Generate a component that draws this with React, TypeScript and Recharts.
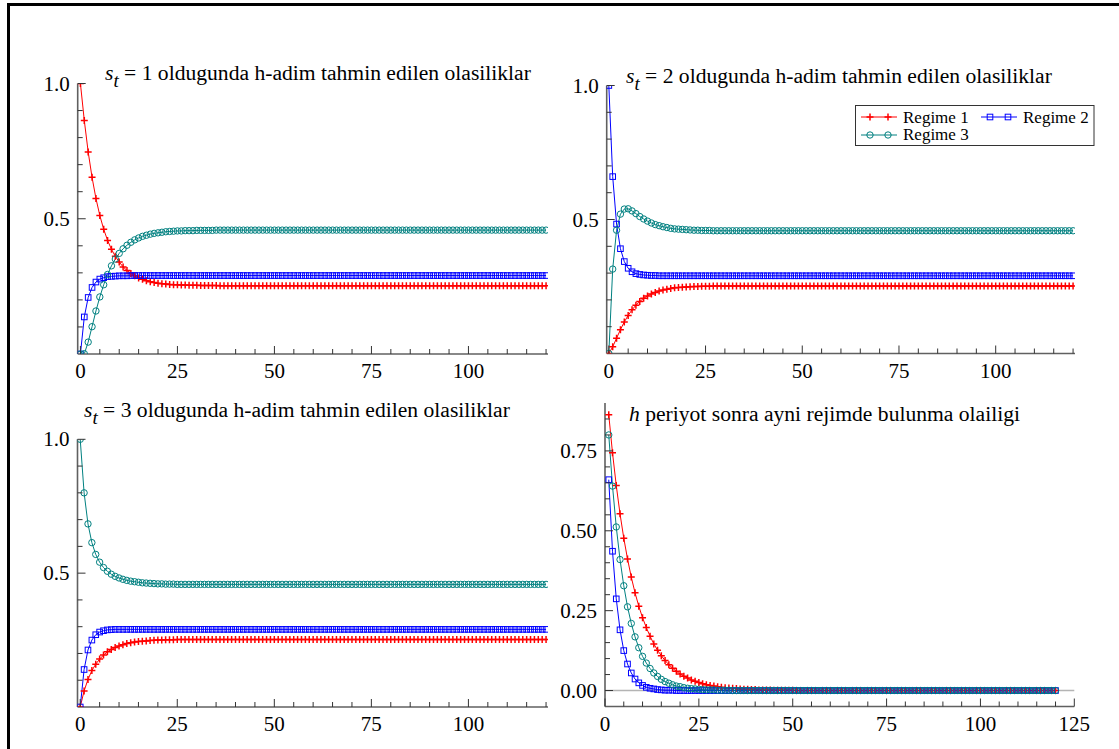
import React from 'react';
import { LineChart, Line, XAxis, YAxis, ReferenceLine } from 'recharts';

const W = 1119;
const H = 749;
const FONT = "'Liberation Serif', 'Times New Roman', serif";
const RED = '#ff0000';
const BLUE = '#0000ff';
const TEAL = '#008080';
const AXIS = '#606060';

// h-step predicted probabilities, s_t = 1 (h = 0..120)
const s1Regime1 = [
  1, 0.863, 0.747, 0.653, 0.575, 0.512, 0.461, 0.420, 0.387, 0.361,
  0.340, 0.322, 0.309, 0.298, 0.289, 0.281, 0.276, 0.271, 0.267, 0.264,
  0.262, 0.260, 0.259, 0.257, 0.256, 0.256, 0.255, 0.255, 0.254, 0.254,
  0.254, 0.253, 0.253, 0.253, 0.253, 0.253, 0.252, 0.252, 0.252, 0.252,
  0.252, 0.252, 0.252, 0.252, 0.252, 0.252, 0.252, 0.252, 0.252, 0.252,
  0.252, 0.252, 0.252, 0.252, 0.252, 0.252, 0.252, 0.252, 0.252, 0.252,
  0.252, 0.252, 0.252, 0.252, 0.252, 0.252, 0.252, 0.252, 0.252, 0.252,
  0.252, 0.252, 0.252, 0.252, 0.252, 0.252, 0.252, 0.252, 0.252, 0.252,
  0.252, 0.252, 0.252, 0.252, 0.252, 0.252, 0.252, 0.252, 0.252, 0.252,
  0.252, 0.252, 0.252, 0.252, 0.252, 0.252, 0.252, 0.252, 0.252, 0.252,
  0.252, 0.252, 0.252, 0.252, 0.252, 0.252, 0.252, 0.252, 0.252, 0.252,
  0.252, 0.252, 0.252, 0.252, 0.252, 0.252, 0.252, 0.252, 0.252, 0.252,
  0.252,
];
const s1Regime2 = [
  0, 0.137, 0.209, 0.246, 0.266, 0.277, 0.282, 0.286, 0.287, 0.288,
  0.289, 0.289, 0.289, 0.290, 0.290, 0.290, 0.290, 0.290, 0.290, 0.290,
  0.290, 0.290, 0.290, 0.290, 0.290, 0.290, 0.290, 0.290, 0.290, 0.290,
  0.290, 0.290, 0.290, 0.290, 0.290, 0.290, 0.290, 0.290, 0.290, 0.290,
  0.290, 0.290, 0.290, 0.290, 0.290, 0.290, 0.290, 0.290, 0.290, 0.290,
  0.290, 0.290, 0.290, 0.290, 0.290, 0.290, 0.290, 0.290, 0.290, 0.290,
  0.290, 0.290, 0.290, 0.290, 0.290, 0.290, 0.290, 0.290, 0.290, 0.290,
  0.290, 0.290, 0.290, 0.290, 0.290, 0.290, 0.290, 0.290, 0.290, 0.290,
  0.290, 0.290, 0.290, 0.290, 0.290, 0.290, 0.290, 0.290, 0.290, 0.290,
  0.290, 0.290, 0.290, 0.290, 0.290, 0.290, 0.290, 0.290, 0.290, 0.290,
  0.290, 0.290, 0.290, 0.290, 0.290, 0.290, 0.290, 0.290, 0.290, 0.290,
  0.290, 0.290, 0.290, 0.290, 0.290, 0.290, 0.290, 0.290, 0.290, 0.290,
  0.290,
];
const s1Regime3 = [
  0, 0.001, 0.044, 0.101, 0.159, 0.211, 0.256, 0.294, 0.326, 0.351,
  0.372, 0.389, 0.402, 0.413, 0.422, 0.429, 0.435, 0.439, 0.443, 0.446,
  0.448, 0.450, 0.452, 0.453, 0.454, 0.455, 0.455, 0.456, 0.456, 0.456,
  0.457, 0.457, 0.457, 0.457, 0.457, 0.458, 0.458, 0.458, 0.458, 0.458,
  0.458, 0.458, 0.458, 0.458, 0.458, 0.458, 0.458, 0.458, 0.458, 0.458,
  0.458, 0.458, 0.458, 0.458, 0.458, 0.458, 0.458, 0.458, 0.458, 0.458,
  0.458, 0.458, 0.458, 0.458, 0.458, 0.458, 0.458, 0.458, 0.458, 0.458,
  0.458, 0.458, 0.458, 0.458, 0.458, 0.458, 0.458, 0.458, 0.458, 0.458,
  0.458, 0.458, 0.458, 0.458, 0.458, 0.458, 0.458, 0.458, 0.458, 0.458,
  0.458, 0.458, 0.458, 0.458, 0.458, 0.458, 0.458, 0.458, 0.458, 0.458,
  0.458, 0.458, 0.458, 0.458, 0.458, 0.458, 0.458, 0.458, 0.458, 0.458,
  0.458, 0.458, 0.458, 0.458, 0.458, 0.458, 0.458, 0.458, 0.458, 0.458,
  0.458,
];

// s_t = 2
const s2Regime1 = [
  0, 0.025, 0.057, 0.089, 0.118, 0.142, 0.163, 0.180, 0.194, 0.206,
  0.215, 0.222, 0.228, 0.233, 0.237, 0.240, 0.243, 0.245, 0.246, 0.247,
  0.248, 0.249, 0.250, 0.250, 0.251, 0.251, 0.251, 0.252, 0.252, 0.252,
  0.252, 0.252, 0.252, 0.252, 0.252, 0.252, 0.252, 0.252, 0.252, 0.252,
  0.252, 0.252, 0.252, 0.252, 0.252, 0.252, 0.252, 0.252, 0.252, 0.252,
  0.252, 0.252, 0.252, 0.252, 0.252, 0.252, 0.252, 0.252, 0.252, 0.252,
  0.252, 0.252, 0.252, 0.252, 0.252, 0.252, 0.252, 0.252, 0.252, 0.252,
  0.252, 0.252, 0.252, 0.252, 0.252, 0.252, 0.252, 0.252, 0.252, 0.252,
  0.252, 0.252, 0.252, 0.252, 0.252, 0.252, 0.252, 0.252, 0.252, 0.252,
  0.252, 0.252, 0.252, 0.252, 0.252, 0.252, 0.252, 0.252, 0.252, 0.252,
  0.252, 0.252, 0.252, 0.252, 0.252, 0.252, 0.252, 0.252, 0.252, 0.252,
  0.252, 0.252, 0.252, 0.252, 0.252, 0.252, 0.252, 0.252, 0.252, 0.252,
  0.252,
];
const s2Regime2 = [
  1, 0.660, 0.483, 0.391, 0.343, 0.318, 0.305, 0.298, 0.295, 0.293,
  0.292, 0.291, 0.291, 0.290, 0.290, 0.290, 0.290, 0.290, 0.290, 0.290,
  0.290, 0.290, 0.290, 0.290, 0.290, 0.290, 0.290, 0.290, 0.290, 0.290,
  0.290, 0.290, 0.290, 0.290, 0.290, 0.290, 0.290, 0.290, 0.290, 0.290,
  0.290, 0.290, 0.290, 0.290, 0.290, 0.290, 0.290, 0.290, 0.290, 0.290,
  0.290, 0.290, 0.290, 0.290, 0.290, 0.290, 0.290, 0.290, 0.290, 0.290,
  0.290, 0.290, 0.290, 0.290, 0.290, 0.290, 0.290, 0.290, 0.290, 0.290,
  0.290, 0.290, 0.290, 0.290, 0.290, 0.290, 0.290, 0.290, 0.290, 0.290,
  0.290, 0.290, 0.290, 0.290, 0.290, 0.290, 0.290, 0.290, 0.290, 0.290,
  0.290, 0.290, 0.290, 0.290, 0.290, 0.290, 0.290, 0.290, 0.290, 0.290,
  0.290, 0.290, 0.290, 0.290, 0.290, 0.290, 0.290, 0.290, 0.290, 0.290,
  0.290, 0.290, 0.290, 0.290, 0.290, 0.290, 0.290, 0.290, 0.290, 0.290,
  0.290,
];
const s2Regime3 = [
  0, 0.315, 0.460, 0.520, 0.539, 0.540, 0.532, 0.522, 0.511, 0.502,
  0.494, 0.487, 0.481, 0.477, 0.473, 0.470, 0.467, 0.465, 0.464, 0.463,
  0.462, 0.461, 0.460, 0.460, 0.459, 0.459, 0.459, 0.458, 0.458, 0.458,
  0.458, 0.458, 0.458, 0.458, 0.458, 0.458, 0.458, 0.458, 0.458, 0.458,
  0.458, 0.458, 0.458, 0.458, 0.458, 0.458, 0.458, 0.458, 0.458, 0.458,
  0.458, 0.458, 0.458, 0.458, 0.458, 0.458, 0.458, 0.458, 0.458, 0.458,
  0.458, 0.458, 0.458, 0.458, 0.458, 0.458, 0.458, 0.458, 0.458, 0.458,
  0.458, 0.458, 0.458, 0.458, 0.458, 0.458, 0.458, 0.458, 0.458, 0.458,
  0.458, 0.458, 0.458, 0.458, 0.458, 0.458, 0.458, 0.458, 0.458, 0.458,
  0.458, 0.458, 0.458, 0.458, 0.458, 0.458, 0.458, 0.458, 0.458, 0.458,
  0.458, 0.458, 0.458, 0.458, 0.458, 0.458, 0.458, 0.458, 0.458, 0.458,
  0.458, 0.458, 0.458, 0.458, 0.458, 0.458, 0.458, 0.458, 0.458, 0.458,
  0.458,
];

// s_t = 3
const s3Regime1 = [
  0, 0.060, 0.103, 0.136, 0.160, 0.179, 0.194, 0.206, 0.215, 0.222,
  0.228, 0.233, 0.237, 0.240, 0.243, 0.245, 0.246, 0.247, 0.248, 0.249,
  0.250, 0.250, 0.251, 0.251, 0.251, 0.252, 0.252, 0.252, 0.252, 0.252,
  0.252, 0.252, 0.252, 0.252, 0.252, 0.252, 0.252, 0.252, 0.252, 0.252,
  0.252, 0.252, 0.252, 0.252, 0.252, 0.252, 0.252, 0.252, 0.252, 0.252,
  0.252, 0.252, 0.252, 0.252, 0.252, 0.252, 0.252, 0.252, 0.252, 0.252,
  0.252, 0.252, 0.252, 0.252, 0.252, 0.252, 0.252, 0.252, 0.252, 0.252,
  0.252, 0.252, 0.252, 0.252, 0.252, 0.252, 0.252, 0.252, 0.252, 0.252,
  0.252, 0.252, 0.252, 0.252, 0.252, 0.252, 0.252, 0.252, 0.252, 0.252,
  0.252, 0.252, 0.252, 0.252, 0.252, 0.252, 0.252, 0.252, 0.252, 0.252,
  0.252, 0.252, 0.252, 0.252, 0.252, 0.252, 0.252, 0.252, 0.252, 0.252,
  0.252, 0.252, 0.252, 0.252, 0.252, 0.252, 0.252, 0.252, 0.252, 0.252,
  0.252,
];
const s3Regime2 = [
  0, 0.140, 0.213, 0.250, 0.270, 0.280, 0.285, 0.288, 0.289, 0.290,
  0.290, 0.290, 0.290, 0.290, 0.290, 0.290, 0.290, 0.290, 0.290, 0.290,
  0.290, 0.290, 0.290, 0.290, 0.290, 0.290, 0.290, 0.290, 0.290, 0.290,
  0.290, 0.290, 0.290, 0.290, 0.290, 0.290, 0.290, 0.290, 0.290, 0.290,
  0.290, 0.290, 0.290, 0.290, 0.290, 0.290, 0.290, 0.290, 0.290, 0.290,
  0.290, 0.290, 0.290, 0.290, 0.290, 0.290, 0.290, 0.290, 0.290, 0.290,
  0.290, 0.290, 0.290, 0.290, 0.290, 0.290, 0.290, 0.290, 0.290, 0.290,
  0.290, 0.290, 0.290, 0.290, 0.290, 0.290, 0.290, 0.290, 0.290, 0.290,
  0.290, 0.290, 0.290, 0.290, 0.290, 0.290, 0.290, 0.290, 0.290, 0.290,
  0.290, 0.290, 0.290, 0.290, 0.290, 0.290, 0.290, 0.290, 0.290, 0.290,
  0.290, 0.290, 0.290, 0.290, 0.290, 0.290, 0.290, 0.290, 0.290, 0.290,
  0.290, 0.290, 0.290, 0.290, 0.290, 0.290, 0.290, 0.290, 0.290, 0.290,
  0.290,
];
const s3Regime3 = [
  1, 0.800, 0.684, 0.614, 0.570, 0.541, 0.521, 0.507, 0.496, 0.488,
  0.482, 0.477, 0.473, 0.470, 0.468, 0.466, 0.464, 0.463, 0.462, 0.461,
  0.460, 0.460, 0.459, 0.459, 0.459, 0.458, 0.458, 0.458, 0.458, 0.458,
  0.458, 0.458, 0.458, 0.458, 0.458, 0.458, 0.458, 0.458, 0.458, 0.458,
  0.458, 0.458, 0.458, 0.458, 0.458, 0.458, 0.458, 0.458, 0.458, 0.458,
  0.458, 0.458, 0.458, 0.458, 0.458, 0.458, 0.458, 0.458, 0.458, 0.458,
  0.458, 0.458, 0.458, 0.458, 0.458, 0.458, 0.458, 0.458, 0.458, 0.458,
  0.458, 0.458, 0.458, 0.458, 0.458, 0.458, 0.458, 0.458, 0.458, 0.458,
  0.458, 0.458, 0.458, 0.458, 0.458, 0.458, 0.458, 0.458, 0.458, 0.458,
  0.458, 0.458, 0.458, 0.458, 0.458, 0.458, 0.458, 0.458, 0.458, 0.458,
  0.458, 0.458, 0.458, 0.458, 0.458, 0.458, 0.458, 0.458, 0.458, 0.458,
  0.458, 0.458, 0.458, 0.458, 0.458, 0.458, 0.458, 0.458, 0.458, 0.458,
  0.458,
];

// probability of staying in the same regime after h periods (h = 1..120)
const stayRegime1 = [
  0.863, 0.744, 0.642, 0.553, 0.477, 0.412, 0.355, 0.306, 0.264, 0.228,
  0.197, 0.170, 0.146, 0.126, 0.109, 0.094, 0.081, 0.070, 0.060, 0.052,
  0.045, 0.039, 0.033, 0.029, 0.025, 0.021, 0.018, 0.016, 0.014, 0.012,
  0.010, 0.009, 0.008, 0.007, 0.006, 0.005, 0.004, 0.004, 0.003, 0.003,
  0.002, 0.002, 0.002, 0.002, 0.001, 0.001, 0.001, 0.001, 0.001, 0.001,
  0, 0, 0, 0, 0, 0, 0, 0, 0, 0,
  0, 0, 0, 0, 0, 0, 0, 0, 0, 0,
  0, 0, 0, 0, 0, 0, 0, 0, 0, 0,
  0, 0, 0, 0, 0, 0, 0, 0, 0, 0,
  0, 0, 0, 0, 0, 0, 0, 0, 0, 0,
  0, 0, 0, 0, 0, 0, 0, 0, 0, 0,
  0, 0, 0, 0, 0, 0, 0, 0, 0, 0,
];
const stayRegime2 = [
  0.660, 0.436, 0.287, 0.190, 0.125, 0.083, 0.055, 0.036, 0.024, 0.016,
  0.010, 0.007, 0.005, 0.003, 0.002, 0.001, 0.001, 0.001, 0, 0,
  0, 0, 0, 0, 0, 0, 0, 0, 0, 0,
  0, 0, 0, 0, 0, 0, 0, 0, 0, 0,
  0, 0, 0, 0, 0, 0, 0, 0, 0, 0,
  0, 0, 0, 0, 0, 0, 0, 0, 0, 0,
  0, 0, 0, 0, 0, 0, 0, 0, 0, 0,
  0, 0, 0, 0, 0, 0, 0, 0, 0, 0,
  0, 0, 0, 0, 0, 0, 0, 0, 0, 0,
  0, 0, 0, 0, 0, 0, 0, 0, 0, 0,
  0, 0, 0, 0, 0, 0, 0, 0, 0, 0,
  0, 0, 0, 0, 0, 0, 0, 0, 0, 0,
];
const stayRegime3 = [
  0.800, 0.640, 0.512, 0.410, 0.328, 0.262, 0.210, 0.168, 0.134, 0.107,
  0.086, 0.069, 0.055, 0.044, 0.035, 0.028, 0.023, 0.018, 0.014, 0.012,
  0.009, 0.007, 0.006, 0.005, 0.004, 0.003, 0.002, 0.002, 0.002, 0.001,
  0.001, 0.001, 0.001, 0, 0, 0, 0, 0, 0, 0,
  0, 0, 0, 0, 0, 0, 0, 0, 0, 0,
  0, 0, 0, 0, 0, 0, 0, 0, 0, 0,
  0, 0, 0, 0, 0, 0, 0, 0, 0, 0,
  0, 0, 0, 0, 0, 0, 0, 0, 0, 0,
  0, 0, 0, 0, 0, 0, 0, 0, 0, 0,
  0, 0, 0, 0, 0, 0, 0, 0, 0, 0,
  0, 0, 0, 0, 0, 0, 0, 0, 0, 0,
  0, 0, 0, 0, 0, 0, 0, 0, 0, 0,
];

// tick values
const hTicks120 = [0, 5, 10, 15, 20, 25, 30, 35, 40, 45, 50, 55, 60, 65, 70, 75, 80, 85, 90, 95, 100, 105, 110, 115, 120];
const hTicks125 = [0, 5, 10, 15, 20, 25, 30, 35, 40, 45, 50, 55, 60, 65, 70, 75, 80, 85, 90, 95, 100, 105, 110, 115, 120, 125];
const probTicks = [0.1, 0.2, 0.3, 0.4, 0.5, 0.6, 0.7, 0.8, 0.9, 1.0];
const stayTicks = [0, 0.05, 0.1, 0.15, 0.2, 0.25, 0.3, 0.35, 0.4, 0.45, 0.5, 0.55, 0.6, 0.65, 0.7, 0.75, 0.8, 0.85];
const seriesNames = ['Regime 1', 'Regime 2', 'Regime 3'];

const toRows = (a: number[], b: number[], c: number[], start: number) =>
  a.map((v, i) => ({ h: i + start, r1: v, r2: b[i], r3: c[i] }));

const PlusMark = ({ cx, cy }: any) => (
  <path d={`M${cx - 3.5},${cy}H${cx + 3.5}M${cx},${cy - 3.5}V${cy + 3.5}`} stroke={RED} strokeWidth={1.5} fill="none" />
);
const SquareMark = ({ cx, cy }: any) => (
  <rect x={cx - 2.8} y={cy - 2.8} width={5.6} height={5.6} stroke={BLUE} strokeWidth={1} fill="none" />
);
const CircleMark = ({ cx, cy }: any) => <circle cx={cx} cy={cy} r={3.2} stroke={TEAL} strokeWidth={1} fill="none" />;

const isMult = (v: number, step: number) => Math.abs(v / step - Math.round(v / step)) < 1e-6;

const XTick = (p: any) => {
  const v = p.payload.value;
  const major = isMult(v, 25);
  return (
    <g>
      <line x1={p.x} x2={p.x} y1={p.y} y2={p.y - (major ? 8 : 5)} stroke="#333" strokeWidth={1} />
      {major && (
        <text x={p.x} y={p.y + 24} textAnchor="middle" fontFamily={FONT} fontSize={21} fill="#000">
          {v}
        </text>
      )}
    </g>
  );
};

const YTick = (p: any, step: number, fmt: (v: number) => string) => {
  const v = p.payload.value;
  const major = isMult(v, step);
  return (
    <g>
      <line x1={p.x} x2={p.x + (major ? 8 : 5)} y1={p.y} y2={p.y} stroke="#333" strokeWidth={1} />
      {major && (
        <text x={p.x - 8} y={p.y + 7} textAnchor="end" fontFamily={FONT} fontSize={21} fill="#000">
          {fmt(v)}
        </text>
      )}
    </g>
  );
};

type PanelProps = {
  rows: any[];
  left: number;
  right: number;
  top: number;
  bottom: number;
  xDomain: [number, number];
  yDomain: [number, number];
  xTicks: number[];
  yTicks: number[];
  yStep: number;
  yFmt: (v: number) => string;
  zeroLine?: boolean;
};

// each panel is a full-page chart whose margins place the plot area
const Panel = ({ rows, left, right, top, bottom, xDomain, yDomain, xTicks, yTicks, yStep, yFmt, zeroLine }: PanelProps) => (
  <div style={{ position: 'absolute', left: 0, top: 0 }}>
    <LineChart width={W} height={H} data={rows} margin={{ left: left - 1, top, right: W - right, bottom: H - bottom - 1 }}>
      <XAxis
        dataKey="h"
        type="number"
        domain={xDomain}
        ticks={xTicks}
        interval={0}
        height={1}
        tickSize={0}
        tickMargin={0}
        tickLine={false}
        allowDataOverflow
        axisLine={{ stroke: AXIS, strokeWidth: 1.6 }}
        tick={(p: any) => XTick(p)}
      />
      <YAxis
        type="number"
        domain={yDomain}
        ticks={yTicks}
        interval={0}
        width={1}
        tickSize={0}
        tickMargin={0}
        tickLine={false}
        allowDataOverflow
        axisLine={{ stroke: AXIS, strokeWidth: 1.6 }}
        tick={(p: any) => YTick(p, yStep, yFmt)}
      />
      {zeroLine && <ReferenceLine y={0} stroke="#b4b4b4" strokeWidth={1.5} />}
      <Line
        dataKey="r1"
        stroke={RED}
        strokeWidth={1}
        isAnimationActive={false}
        activeDot={false}
        dot={(p: any) => <PlusMark key={`r1-${p.index}`} cx={p.cx} cy={p.cy} />}
      />
      <Line
        dataKey="r2"
        stroke={BLUE}
        strokeWidth={1}
        isAnimationActive={false}
        activeDot={false}
        dot={(p: any) => <SquareMark key={`r2-${p.index}`} cx={p.cx} cy={p.cy} />}
      />
      <Line
        dataKey="r3"
        stroke={TEAL}
        strokeWidth={1}
        isAnimationActive={false}
        activeDot={false}
        dot={(p: any) => <CircleMark key={`r3-${p.index}`} cx={p.cx} cy={p.cy} />}
      />
    </LineChart>
  </div>
);

const Title = ({ x, y, n }: { x: number; y: number; n: string }) => (
  <text x={x} y={y} fontFamily={FONT} fontSize={21.6} fill="#000">
    <tspan fontStyle="italic">s</tspan>
    <tspan fontStyle="italic" fontSize={19} dy={7}>t</tspan>
    <tspan dy={-7}>{` = ${n} oldugunda h-adim tahmin edilen olasiliklar`}</tspan>
  </text>
);

const LegendBox = () => (
  <g fontFamily={FONT} fontSize={17}>
    <rect x={855.5} y={105.5} width={238.5} height={40} fill="#fff" stroke="#333" strokeWidth={1} />
    <line x1={861} x2={897} y1={117} y2={117} stroke={RED} />
    <PlusMark cx={870} cy={117} />
    <PlusMark cx={888} cy={117} />
    <text x={903} y={123}>{seriesNames[0]}</text>
    <line x1={981} x2={1017} y1={117} y2={117} stroke={BLUE} />
    <SquareMark cx={990} cy={117} />
    <SquareMark cx={1008} cy={117} />
    <text x={1023} y={123}>{seriesNames[1]}</text>
    <line x1={861} x2={897} y1={135} y2={135} stroke={TEAL} />
    <CircleMark cx={870} cy={135} />
    <CircleMark cx={888} cy={135} />
    <text x={903} y={140}>{seriesNames[2]}</text>
  </g>
);

const fmt1 = (v: number) => v.toFixed(1);
const fmt2 = (v: number) => v.toFixed(2);

export default function App() {
  return (
    <div style={{ position: 'absolute', left: 0, top: 0, width: W, height: H, background: '#fff', overflow: 'hidden' }}>
      <div style={{ position: 'absolute', left: 7, top: 3, width: W, height: H, borderTop: '3px solid #000', borderLeft: '3px solid #000' }} />
      <Panel rows={toRows(s1Regime1, s1Regime2, s1Regime3, 0)} left={77.7} right={548} top={83.5} bottom={354}
        xDomain={[-0.7, 120.5]} yDomain={[0, 1]} xTicks={hTicks120} yTicks={probTicks} yStep={0.5} yFmt={fmt1} />
      <Panel rows={toRows(s2Regime1, s2Regime2, s2Regime3, 0)} left={606.7} right={1075} top={85.5} bottom={353.5}
        xDomain={[-0.55, 120.5]} yDomain={[0, 1]} xTicks={hTicks120} yTicks={probTicks} yStep={0.5} yFmt={fmt1} />
      <Panel rows={toRows(s3Regime1, s3Regime2, s3Regime3, 0)} left={77.5} right={548} top={439.3} bottom={707}
        xDomain={[-0.7, 120.5]} yDomain={[0, 1]} xTicks={hTicks120} yTicks={probTicks} yStep={0.5} yFmt={fmt1} />
      <Panel rows={toRows(stayRegime1, stayRegime2, stayRegime3, 1)} left={605} right={1074.3} top={403} bottom={706.5}
        xDomain={[0, 125]} yDomain={[-0.05, 0.9]} xTicks={hTicks125} yTicks={stayTicks} yStep={0.25} yFmt={fmt2} zeroLine />
      <svg width={W} height={H} style={{ position: 'absolute', left: 0, top: 0 }}>
        <Title x={105} y={80} n="1" />
        <Title x={626} y={83} n="2" />
        <Title x={84} y={417} n="3" />
        <text x={629} y={421} fontFamily={FONT} fontSize={21.6} fill="#000">
          <tspan fontStyle="italic">h</tspan>
          <tspan> periyot sonra ayni rejimde bulunma olailigi</tspan>
        </text>
        <LegendBox />
      </svg>
    </div>
  );
}
